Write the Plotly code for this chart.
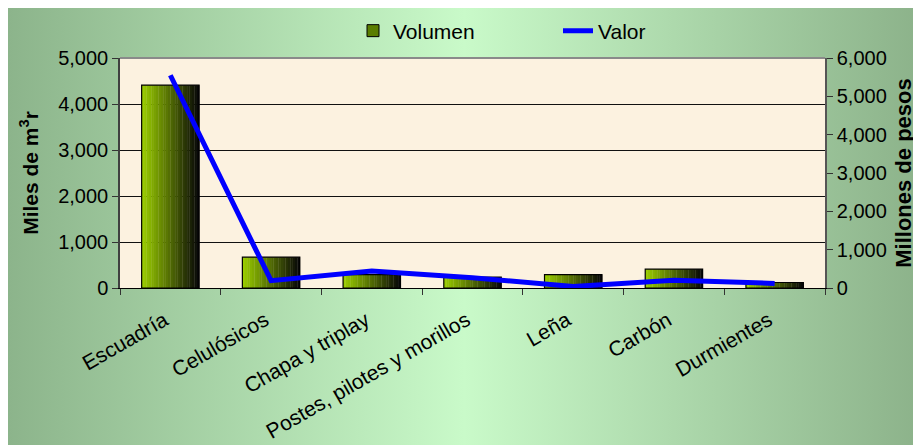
import base64
import plotly.graph_objects as go

# data
productos = ["Escuadría", "Celulósicos", "Chapa y triplay", "Postes, pilotes y morillos",
             "Leña", "Carbón", "Durmientes"]
volumen = [4410, 670, 290, 235, 290, 410, 120]      # miles de m3r
valor = [5550, 190, 440, 270, 40, 200, 120]         # millones de pesos

vol_ticks = [0, 1000, 2000, 3000, 4000, 5000]
val_ticks = [0, 1000, 2000, 3000, 4000, 5000, 6000]

FONT = "Liberation Sans, Arial, sans-serif"
W, H = 913, 437
L, R, T, B = 112, 96, 50, 157
PW, PH = W - L - R, H - T - B

# page background: horizontal green gradient (as an svg image)
svg = ("<svg xmlns='http://www.w3.org/2000/svg' width='200' height='100' preserveAspectRatio='none'>"
       "<defs><linearGradient id='g' x1='0' x2='1' y1='0' y2='0'>"
       "<stop offset='0' stop-color='#8CB48B'/>"
       "<stop offset='0.5' stop-color='#C9FAC9'/>"
       "<stop offset='1' stop-color='#8CB28A'/>"
       "</linearGradient></defs>"
       "<rect width='200' height='100' fill='url(#g)'/></svg>")
bg_src = "data:image/svg+xml;base64," + base64.b64encode(svg.encode()).decode()

fig = go.Figure()

# bars with a left-to-right gradient, drawn as thin strips
bar_w = 0.57
n_strips = 24
start = (153, 204, 0)
for i in range(n_strips):
    t = i / (n_strips - 1)
    c = tuple(int(round(v * (1 - t) + 8 * t)) for v in start)
    fig.add_trace(go.Bar(
        x=productos, y=volumen,
        width=bar_w / n_strips + 0.003,
        offset=-bar_w / 2 + i * bar_w / n_strips,
        marker=dict(color="rgb(%d,%d,%d)" % c, line=dict(width=0)),
        showlegend=False, hoverinfo="skip",
    ))

# outline
fig.add_trace(go.Bar(
    x=productos, y=volumen, width=bar_w, offset=-bar_w / 2,
    marker=dict(color="rgba(0,0,0,0)", line=dict(color="black", width=1.2)),
    showlegend=False,
))

# legend entry for the bars
fig.add_trace(go.Bar(
    x=productos, y=[None] * len(productos), name="Volumen",
    marker=dict(color="rgb(90,125,0)", line=dict(color="black", width=1)),
))

fig.add_trace(go.Scatter(
    x=productos, y=valor, name="Valor", yaxis="y2", mode="lines",
    line=dict(color="#0000FF", width=5),
))

fig.update_layout(
    width=W, height=H,
    margin=dict(l=L, r=R, t=T, b=B, autoexpand=False),
    paper_bgcolor="#A8D6A7",
    plot_bgcolor="rgba(0,0,0,0)",
    barmode="overlay",
    font=dict(family=FONT, size=20, color="black"),
    showlegend=True,
    legend=dict(orientation="h", x=(345 - L) / PW, xanchor="left",
                y=(H - B - 23) / PH, yanchor="middle",
                bgcolor="rgba(0,0,0,0)", font=dict(size=21), traceorder="normal",
                entrywidth=160, entrywidthmode="pixels"),
    xaxis=dict(
        type="category", tickangle=-30, tickfont=dict(size=21),
        showline=True, linecolor="black", linewidth=1,
        ticks="outside", ticklen=6, tickcolor="#333", tickson="boundaries",
        ticklabelstandoff=11, ticklabelshift=-6,
        showgrid=False,
    ),
    yaxis=dict(
        range=[0, 5000], tickvals=vol_ticks, tickformat=",",
        title=dict(text="<b>Miles de m<sup>3</sup>r</b>", font=dict(size=21), standoff=14),
        showline=True, linecolor="#404040", linewidth=1.5,
        ticks="outside", ticklen=6, tickcolor="#333",
        showgrid=True, gridcolor="#111", gridwidth=1, zeroline=False,
    ),
    yaxis2=dict(
        overlaying="y", side="right",
        range=[0, 6000], tickvals=val_ticks, tickformat=",",
        title=dict(text="<b>Millones de pesos</b>", font=dict(size=22), standoff=10),
        showline=True, linecolor="#555", linewidth=1.5,
        ticks="outside", ticklen=6, tickcolor="#333",
        showgrid=False, zeroline=False,
    ),
    images=[dict(
        source=bg_src, xref="paper", yref="paper",
        x=-L / PW, y=(H - B) / PH,
        sizex=W / PW, sizey=H / PH,
        sizing="stretch", layer="below", xanchor="left", yanchor="top",
    )],
    shapes=[
        dict(type="rect", xref="paper", yref="paper", x0=0, x1=1, y0=0, y1=1,
             fillcolor="#FCF2E0", line=dict(width=0), layer="below"),
        dict(type="line", xref="paper", yref="paper", x0=0, x1=1, y0=1, y1=1,
             line=dict(color="#8A8A8A", width=2), layer="above"),
    ],
)

fig.write_html("out.html")
